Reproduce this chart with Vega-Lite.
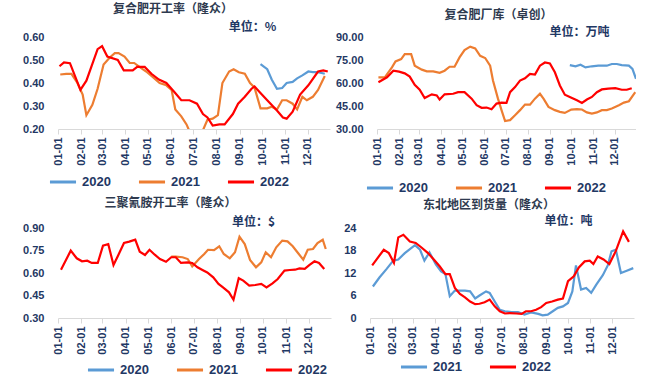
{
  "$schema": "https://vega.github.io/schema/vega-lite/v6.json",
  "padding": {"left": 16, "top": 3, "right": 0, "bottom": 0},
  "datasets": {
    "p1": [
      {"d":"2022-09-29","y":"2020","v":0.482},{"d":"2022-10-08","y":"2020","v":0.46},{"d":"2022-10-14","y":"2020","v":0.415},{"d":"2022-10-21","y":"2020","v":0.375},{"d":"2022-10-28","y":"2020","v":0.378},{"d":"2022-11-03","y":"2020","v":0.40},{"d":"2022-11-11","y":"2020","v":0.405},{"d":"2022-11-17","y":"2020","v":0.42},{"d":"2022-11-24","y":"2020","v":0.433},{"d":"2022-12-02","y":"2020","v":0.45},{"d":"2022-12-08","y":"2020","v":0.447},{"d":"2022-12-15","y":"2020","v":0.447},{"d":"2022-12-24","y":"2020","v":0.44},
      {"d":"2022-01-04","y":"2021","v":0.437},{"d":"2022-01-12","y":"2021","v":0.44},{"d":"2022-01-19","y":"2021","v":0.44},{"d":"2022-01-27","y":"2021","v":0.40},{"d":"2022-02-03","y":"2021","v":0.35},{"d":"2022-02-08","y":"2021","v":0.26},{"d":"2022-02-16","y":"2021","v":0.305},{"d":"2022-02-23","y":"2021","v":0.375},{"d":"2022-03-03","y":"2021","v":0.48},{"d":"2022-03-11","y":"2021","v":0.51},{"d":"2022-03-18","y":"2021","v":0.53},{"d":"2022-03-23","y":"2021","v":0.53},{"d":"2022-03-31","y":"2021","v":0.515},{"d":"2022-04-07","y":"2021","v":0.487},{"d":"2022-04-13","y":"2021","v":0.487},{"d":"2022-04-20","y":"2021","v":0.47},{"d":"2022-04-29","y":"2021","v":0.45},{"d":"2022-05-08","y":"2021","v":0.425},{"d":"2022-05-17","y":"2021","v":0.40},{"d":"2022-05-26","y":"2021","v":0.39},{"d":"2022-06-02","y":"2021","v":0.37},{"d":"2022-06-07","y":"2021","v":0.285},{"d":"2022-06-15","y":"2021","v":0.255},{"d":"2022-06-22","y":"2021","v":0.22},{"d":"2022-06-26","y":"2021","v":0.19},{"d":"2022-07-06","y":"2021","v":0.12},{"d":"2022-07-14","y":"2021","v":0.195},{"d":"2022-07-20","y":"2021","v":0.24},{"d":"2022-07-27","y":"2021","v":0.245},{"d":"2022-08-03","y":"2021","v":0.26},{"d":"2022-08-09","y":"2021","v":0.40},{"d":"2022-08-18","y":"2021","v":0.45},{"d":"2022-08-24","y":"2021","v":0.46},{"d":"2022-08-31","y":"2021","v":0.447},{"d":"2022-09-08","y":"2021","v":0.44},{"d":"2022-09-15","y":"2021","v":0.40},{"d":"2022-09-21","y":"2021","v":0.38},{"d":"2022-09-29","y":"2021","v":0.29},{"d":"2022-10-08","y":"2021","v":0.29},{"d":"2022-10-14","y":"2021","v":0.297},{"d":"2022-10-21","y":"2021","v":0.285},{"d":"2022-10-28","y":"2021","v":0.325},{"d":"2022-11-03","y":"2021","v":0.325},{"d":"2022-11-11","y":"2021","v":0.31},{"d":"2022-11-17","y":"2021","v":0.285},{"d":"2022-11-24","y":"2021","v":0.34},{"d":"2022-11-30","y":"2021","v":0.325},{"d":"2022-12-08","y":"2021","v":0.34},{"d":"2022-12-15","y":"2021","v":0.37},{"d":"2022-12-24","y":"2021","v":0.43},
      {"d":"2022-01-03","y":"2022","v":0.473},{"d":"2022-01-09","y":"2022","v":0.49},{"d":"2022-01-17","y":"2022","v":0.486},{"d":"2022-01-31","y":"2022","v":0.37},{"d":"2022-02-08","y":"2022","v":0.41},{"d":"2022-02-23","y":"2022","v":0.547},{"d":"2022-03-01","y":"2022","v":0.56},{"d":"2022-03-08","y":"2022","v":0.515},{"d":"2022-03-22","y":"2022","v":0.50},{"d":"2022-03-30","y":"2022","v":0.455},{"d":"2022-04-11","y":"2022","v":0.455},{"d":"2022-04-17","y":"2022","v":0.47},{"d":"2022-04-27","y":"2022","v":0.47},{"d":"2022-05-06","y":"2022","v":0.44},{"d":"2022-05-16","y":"2022","v":0.415},{"d":"2022-05-26","y":"2022","v":0.40},{"d":"2022-06-06","y":"2022","v":0.36},{"d":"2022-06-15","y":"2022","v":0.325},{"d":"2022-06-26","y":"2022","v":0.325},{"d":"2022-07-06","y":"2022","v":0.31},{"d":"2022-07-14","y":"2022","v":0.265},{"d":"2022-07-20","y":"2022","v":0.25},{"d":"2022-07-27","y":"2022","v":0.215},{"d":"2022-08-05","y":"2022","v":0.22},{"d":"2022-08-12","y":"2022","v":0.22},{"d":"2022-08-23","y":"2022","v":0.265},{"d":"2022-08-30","y":"2022","v":0.31},{"d":"2022-09-08","y":"2022","v":0.34},{"d":"2022-09-17","y":"2022","v":0.375},{"d":"2022-09-21","y":"2022","v":0.385},{"d":"2022-09-28","y":"2022","v":0.36},{"d":"2022-10-08","y":"2022","v":0.325},{"d":"2022-10-21","y":"2022","v":0.28},{"d":"2022-10-29","y":"2022","v":0.25},{"d":"2022-11-03","y":"2022","v":0.245},{"d":"2022-11-11","y":"2022","v":0.275},{"d":"2022-11-21","y":"2022","v":0.35},{"d":"2022-12-02","y":"2022","v":0.39},{"d":"2022-12-15","y":"2022","v":0.45},{"d":"2022-12-22","y":"2022","v":0.455},{"d":"2022-12-28","y":"2022","v":0.45}
    ],
    "p2": [
      {"d":"2022-09-29","y":"2020","v":71.7},{"d":"2022-10-07","y":"2020","v":70.9},{"d":"2022-10-14","y":"2020","v":71.9},{"d":"2022-10-21","y":"2020","v":70.2},{"d":"2022-10-30","y":"2020","v":70.9},{"d":"2022-11-08","y":"2020","v":71.3},{"d":"2022-11-20","y":"2020","v":71.3},{"d":"2022-11-27","y":"2020","v":72.4},{"d":"2022-12-04","y":"2020","v":72.4},{"d":"2022-12-11","y":"2020","v":71.7},{"d":"2022-12-21","y":"2020","v":71.3},{"d":"2022-12-26","y":"2020","v":69.2},{"d":"2022-12-31","y":"2020","v":62.7},
      {"d":"2022-01-03","y":"2021","v":63.7},{"d":"2022-01-12","y":"2021","v":63.7},{"d":"2022-01-22","y":"2021","v":70.2},{"d":"2022-01-27","y":"2021","v":74.1},{"d":"2022-02-04","y":"2021","v":75.6},{"d":"2022-02-09","y":"2021","v":78.8},{"d":"2022-02-18","y":"2021","v":78.8},{"d":"2022-02-23","y":"2021","v":71.3},{"d":"2022-03-05","y":"2021","v":68.7},{"d":"2022-03-12","y":"2021","v":67.6},{"d":"2022-03-21","y":"2021","v":67.6},{"d":"2022-03-30","y":"2021","v":66.6},{"d":"2022-04-06","y":"2021","v":68},{"d":"2022-04-13","y":"2021","v":70.6},{"d":"2022-04-20","y":"2021","v":70.6},{"d":"2022-04-27","y":"2021","v":76.7},{"d":"2022-05-04","y":"2021","v":81.4},{"d":"2022-05-12","y":"2021","v":83.7},{"d":"2022-05-19","y":"2021","v":82.5},{"d":"2022-05-26","y":"2021","v":77.7},{"d":"2022-06-02","y":"2021","v":76.3},{"d":"2022-06-09","y":"2021","v":71.3},{"d":"2022-06-13","y":"2021","v":61.6},{"d":"2022-06-20","y":"2021","v":49.8},{"d":"2022-06-25","y":"2021","v":42.3},{"d":"2022-06-30","y":"2021","v":35.2},{"d":"2022-07-07","y":"2021","v":35.8},{"d":"2022-07-14","y":"2021","v":39},{"d":"2022-07-21","y":"2021","v":42.3},{"d":"2022-07-28","y":"2021","v":45.9},{"d":"2022-08-04","y":"2021","v":45.9},{"d":"2022-08-11","y":"2021","v":49.8},{"d":"2022-08-18","y":"2021","v":53},{"d":"2022-08-23","y":"2021","v":49.8},{"d":"2022-08-30","y":"2021","v":44.4},{"d":"2022-09-08","y":"2021","v":42.3},{"d":"2022-09-15","y":"2021","v":41.2},{"d":"2022-09-22","y":"2021","v":40.5},{"d":"2022-10-01","y":"2021","v":42.7},{"d":"2022-10-09","y":"2021","v":42.9},{"d":"2022-10-16","y":"2021","v":42.7},{"d":"2022-10-23","y":"2021","v":40.8},{"d":"2022-10-30","y":"2021","v":40.1},{"d":"2022-11-06","y":"2021","v":40.8},{"d":"2022-11-13","y":"2021","v":42.3},{"d":"2022-11-20","y":"2021","v":42.3},{"d":"2022-11-27","y":"2021","v":43.4},{"d":"2022-12-07","y":"2021","v":45.5},{"d":"2022-12-14","y":"2021","v":47.2},{"d":"2022-12-21","y":"2021","v":48.1},{"d":"2022-12-30","y":"2021","v":54},
      {"d":"2022-01-03","y":"2022","v":60.5},{"d":"2022-01-15","y":"2022","v":63.7},{"d":"2022-01-24","y":"2022","v":68},{"d":"2022-02-01","y":"2022","v":67.4},{"d":"2022-02-09","y":"2022","v":66.3},{"d":"2022-02-16","y":"2022","v":64.2},{"d":"2022-02-23","y":"2022","v":58.8},{"d":"2022-03-02","y":"2022","v":55.6},{"d":"2022-03-09","y":"2022","v":50.2},{"d":"2022-03-19","y":"2022","v":52.6},{"d":"2022-03-26","y":"2022","v":51.9},{"d":"2022-03-30","y":"2022","v":49.2},{"d":"2022-04-06","y":"2022","v":52.6},{"d":"2022-04-18","y":"2022","v":53},{"d":"2022-04-25","y":"2022","v":54},{"d":"2022-05-04","y":"2022","v":54},{"d":"2022-05-14","y":"2022","v":49.8},{"d":"2022-05-21","y":"2022","v":45.5},{"d":"2022-05-28","y":"2022","v":43.8},{"d":"2022-06-04","y":"2022","v":44},{"d":"2022-06-11","y":"2022","v":42.9},{"d":"2022-06-18","y":"2022","v":46.6},{"d":"2022-06-25","y":"2022","v":47.2},{"d":"2022-07-02","y":"2022","v":47},{"d":"2022-07-07","y":"2022","v":54},{"d":"2022-07-14","y":"2022","v":57.3},{"d":"2022-07-21","y":"2022","v":61.6},{"d":"2022-07-28","y":"2022","v":63.1},{"d":"2022-08-04","y":"2022","v":65.9},{"d":"2022-08-11","y":"2022","v":65.5},{"d":"2022-08-18","y":"2022","v":71.3},{"d":"2022-08-25","y":"2022","v":73.4},{"d":"2022-09-01","y":"2022","v":72.8},{"d":"2022-09-08","y":"2022","v":67},{"d":"2022-09-15","y":"2022","v":58.4},{"d":"2022-09-22","y":"2022","v":52.4},{"d":"2022-10-02","y":"2022","v":50.2},{"d":"2022-10-09","y":"2022","v":48.7},{"d":"2022-10-16","y":"2022","v":47},{"d":"2022-10-23","y":"2022","v":49.2},{"d":"2022-10-30","y":"2022","v":50.9},{"d":"2022-11-06","y":"2022","v":54},{"d":"2022-11-13","y":"2022","v":55.8},{"d":"2022-11-22","y":"2022","v":56.3},{"d":"2022-12-02","y":"2022","v":56.6},{"d":"2022-12-11","y":"2022","v":55.6},{"d":"2022-12-18","y":"2022","v":55.6},{"d":"2022-12-25","y":"2022","v":56.6}
    ],
    "p3": [
      {"d":"2022-06-01","y":"2021","v":0.709},{"d":"2022-06-07","y":"2021","v":0.709},{"d":"2022-06-16","y":"2021","v":0.705},{"d":"2022-06-23","y":"2021","v":0.693},{"d":"2022-06-29","y":"2021","v":0.644},{"d":"2022-07-08","y":"2021","v":0.693},{"d":"2022-07-15","y":"2021","v":0.727},{"d":"2022-07-20","y":"2021","v":0.755},{"d":"2022-07-28","y":"2021","v":0.753},{"d":"2022-08-04","y":"2021","v":0.778},{"d":"2022-08-10","y":"2021","v":0.727},{"d":"2022-08-18","y":"2021","v":0.698},{"d":"2022-08-25","y":"2021","v":0.738},{"d":"2022-08-31","y":"2021","v":0.842},{"d":"2022-09-07","y":"2021","v":0.793},{"d":"2022-09-14","y":"2021","v":0.687},{"d":"2022-09-22","y":"2021","v":0.638},{"d":"2022-09-29","y":"2021","v":0.671},{"d":"2022-10-05","y":"2021","v":0.738},{"d":"2022-10-12","y":"2021","v":0.705},{"d":"2022-10-19","y":"2021","v":0.771},{"d":"2022-10-27","y":"2021","v":0.816},{"d":"2022-11-03","y":"2021","v":0.811},{"d":"2022-11-10","y":"2021","v":0.778},{"d":"2022-11-17","y":"2021","v":0.733},{"d":"2022-11-24","y":"2021","v":0.689},{"d":"2022-11-30","y":"2021","v":0.755},{"d":"2022-12-07","y":"2021","v":0.76},{"d":"2022-12-13","y":"2021","v":0.80},{"d":"2022-12-20","y":"2021","v":0.822},{"d":"2022-12-24","y":"2021","v":0.76},
      {"d":"2022-01-05","y":"2022","v":0.622},{"d":"2022-01-18","y":"2022","v":0.749},{"d":"2022-01-26","y":"2022","v":0.698},{"d":"2022-02-02","y":"2022","v":0.678},{"d":"2022-02-09","y":"2022","v":0.682},{"d":"2022-02-15","y":"2022","v":0.667},{"d":"2022-02-23","y":"2022","v":0.667},{"d":"2022-03-02","y":"2022","v":0.782},{"d":"2022-03-09","y":"2022","v":0.793},{"d":"2022-03-16","y":"2022","v":0.653},{"d":"2022-03-22","y":"2022","v":0.715},{"d":"2022-03-30","y":"2022","v":0.80},{"d":"2022-04-06","y":"2022","v":0.809},{"d":"2022-04-14","y":"2022","v":0.822},{"d":"2022-04-20","y":"2022","v":0.742},{"d":"2022-04-27","y":"2022","v":0.72},{"d":"2022-05-03","y":"2022","v":0.755},{"d":"2022-05-10","y":"2022","v":0.722},{"d":"2022-05-17","y":"2022","v":0.693},{"d":"2022-05-25","y":"2022","v":0.675},{"d":"2022-06-01","y":"2022","v":0.705},{"d":"2022-06-07","y":"2022","v":0.705},{"d":"2022-06-14","y":"2022","v":0.667},{"d":"2022-06-23","y":"2022","v":0.671},{"d":"2022-06-29","y":"2022","v":0.667},{"d":"2022-07-06","y":"2022","v":0.638},{"d":"2022-07-12","y":"2022","v":0.622},{"d":"2022-07-19","y":"2022","v":0.604},{"d":"2022-07-27","y":"2022","v":0.571},{"d":"2022-08-03","y":"2022","v":0.527},{"d":"2022-08-09","y":"2022","v":0.504},{"d":"2022-08-17","y":"2022","v":0.471},{"d":"2022-08-23","y":"2022","v":0.422},{"d":"2022-08-30","y":"2022","v":0.565},{"d":"2022-09-05","y":"2022","v":0.549},{"d":"2022-09-13","y":"2022","v":0.516},{"d":"2022-09-21","y":"2022","v":0.52},{"d":"2022-09-29","y":"2022","v":0.527},{"d":"2022-10-06","y":"2022","v":0.504},{"d":"2022-10-14","y":"2022","v":0.531},{"d":"2022-10-21","y":"2022","v":0.56},{"d":"2022-10-30","y":"2022","v":0.616},{"d":"2022-11-06","y":"2022","v":0.62},{"d":"2022-11-13","y":"2022","v":0.622},{"d":"2022-11-19","y":"2022","v":0.631},{"d":"2022-11-26","y":"2022","v":0.627},{"d":"2022-12-02","y":"2022","v":0.653},{"d":"2022-12-09","y":"2022","v":0.678},{"d":"2022-12-15","y":"2022","v":0.667},{"d":"2022-12-22","y":"2022","v":0.627}
    ],
    "p4": [
      {"d":"2022-01-05","y":"2021","v":8.4},{"d":"2022-01-14","y":"2021","v":10.8},{"d":"2022-01-24","y":"2021","v":13.1},{"d":"2022-02-02","y":"2021","v":15.3},{"d":"2022-02-09","y":"2021","v":15.6},{"d":"2022-02-18","y":"2021","v":17.3},{"d":"2022-03-04","y":"2021","v":19.4},{"d":"2022-03-11","y":"2021","v":18.2},{"d":"2022-03-17","y":"2021","v":15.3},{"d":"2022-03-24","y":"2021","v":17.5},{"d":"2022-04-02","y":"2021","v":14.2},{"d":"2022-04-09","y":"2021","v":12.4},{"d":"2022-04-15","y":"2021","v":11.7},{"d":"2022-04-21","y":"2021","v":5.8},{"d":"2022-04-28","y":"2021","v":7.3},{"d":"2022-05-05","y":"2021","v":7.3},{"d":"2022-05-12","y":"2021","v":7.3},{"d":"2022-05-19","y":"2021","v":7.1},{"d":"2022-05-26","y":"2021","v":5.2},{"d":"2022-06-01","y":"2021","v":6.0},{"d":"2022-06-10","y":"2021","v":7.1},{"d":"2022-06-15","y":"2021","v":6.7},{"d":"2022-06-22","y":"2021","v":4.4},{"d":"2022-06-29","y":"2021","v":2.2},{"d":"2022-07-06","y":"2021","v":1.8},{"d":"2022-07-15","y":"2021","v":1.6},{"d":"2022-07-24","y":"2021","v":1.6},{"d":"2022-08-02","y":"2021","v":0.9},{"d":"2022-08-11","y":"2021","v":1.5},{"d":"2022-08-21","y":"2021","v":1.1},{"d":"2022-08-27","y":"2021","v":0.7},{"d":"2022-09-03","y":"2021","v":0.9},{"d":"2022-09-10","y":"2021","v":1.8},{"d":"2022-09-17","y":"2021","v":2.7},{"d":"2022-09-24","y":"2021","v":3.1},{"d":"2022-10-01","y":"2021","v":4},{"d":"2022-10-07","y":"2021","v":7.1},{"d":"2022-10-12","y":"2021","v":14.0},{"d":"2022-10-19","y":"2021","v":7.6},{"d":"2022-10-26","y":"2021","v":8},{"d":"2022-11-02","y":"2021","v":6.7},{"d":"2022-11-09","y":"2021","v":8.9},{"d":"2022-11-18","y":"2021","v":11.4},{"d":"2022-11-25","y":"2021","v":14.1},{"d":"2022-11-30","y":"2021","v":17.8},{"d":"2022-12-06","y":"2021","v":18.2},{"d":"2022-12-13","y":"2021","v":12},{"d":"2022-12-21","y":"2021","v":12.6},{"d":"2022-12-30","y":"2021","v":13.3},
      {"d":"2022-01-04","y":"2022","v":14.05},{"d":"2022-01-20","y":"2022","v":18.2},{"d":"2022-01-27","y":"2022","v":17.3},{"d":"2022-02-03","y":"2022","v":14.7},{"d":"2022-02-09","y":"2022","v":21.5},{"d":"2022-02-16","y":"2022","v":22.2},{"d":"2022-02-25","y":"2022","v":20.4},{"d":"2022-03-05","y":"2022","v":20},{"d":"2022-03-13","y":"2022","v":18.8},{"d":"2022-03-22","y":"2022","v":17.3},{"d":"2022-03-30","y":"2022","v":15.6},{"d":"2022-04-07","y":"2022","v":13.8},{"d":"2022-04-15","y":"2022","v":11.7},{"d":"2022-04-21","y":"2022","v":11.7},{"d":"2022-04-28","y":"2022","v":8},{"d":"2022-05-05","y":"2022","v":6.4},{"d":"2022-05-12","y":"2022","v":5.5},{"d":"2022-05-19","y":"2022","v":4.4},{"d":"2022-05-26","y":"2022","v":3.7},{"d":"2022-06-01","y":"2022","v":3.8},{"d":"2022-06-08","y":"2022","v":4.2},{"d":"2022-06-15","y":"2022","v":4.9},{"d":"2022-06-22","y":"2022","v":3.1},{"d":"2022-06-29","y":"2022","v":1.8},{"d":"2022-07-06","y":"2022","v":1.2},{"d":"2022-07-13","y":"2022","v":1.3},{"d":"2022-07-22","y":"2022","v":1.2},{"d":"2022-07-29","y":"2022","v":1.1},{"d":"2022-08-04","y":"2022","v":1.8},{"d":"2022-08-11","y":"2022","v":1.8},{"d":"2022-08-18","y":"2022","v":2.2},{"d":"2022-08-25","y":"2022","v":2.9},{"d":"2022-09-01","y":"2022","v":4},{"d":"2022-09-09","y":"2022","v":4.4},{"d":"2022-09-17","y":"2022","v":4.9},{"d":"2022-09-24","y":"2022","v":5.2},{"d":"2022-10-01","y":"2022","v":9.8},{"d":"2022-10-09","y":"2022","v":11.1},{"d":"2022-10-16","y":"2022","v":13.5},{"d":"2022-10-24","y":"2022","v":15.1},{"d":"2022-10-31","y":"2022","v":15.3},{"d":"2022-11-05","y":"2022","v":14.4},{"d":"2022-11-11","y":"2022","v":16.4},{"d":"2022-11-19","y":"2022","v":15.6},{"d":"2022-11-27","y":"2022","v":14.4},{"d":"2022-12-06","y":"2022","v":17.9},{"d":"2022-12-16","y":"2022","v":23.1},{"d":"2022-12-24","y":"2022","v":20.3}
    ]
  },
  "vconcat": [
    {
      "hconcat": [
        {
          "width": 272, "height": 92,
          "title": {"text": "复合肥开工率（隆众）", "dx": -21, "offset": 4},
          "data": {"name": "p1"},
          "mark": {"type": "line", "clip": true, "strokeWidth": 2.2},
          "encoding": {
            "x": {"field": "d", "type": "temporal", "title": null,
              "scale": {"type": "utc", "domain": [{"year": 2022, "month": 1, "date": 1, "utc": true}, {"year": 2022, "month": 12, "date": 31, "utc": true}]},
              "axis": {"labelExpr": "utcFormat(datum.value, '%m-%d')", "values": [{"year":2022,"month":1,"date":1,"utc":true},{"year":2022,"month":2,"date":1,"utc":true},{"year":2022,"month":3,"date":1,"utc":true},{"year":2022,"month":4,"date":1,"utc":true},{"year":2022,"month":5,"date":1,"utc":true},{"year":2022,"month":6,"date":1,"utc":true},{"year":2022,"month":7,"date":1,"utc":true},{"year":2022,"month":8,"date":1,"utc":true},{"year":2022,"month":9,"date":1,"utc":true},{"year":2022,"month":10,"date":1,"utc":true},{"year":2022,"month":11,"date":1,"utc":true},{"year":2022,"month":12,"date":1,"utc":true}]}},
            "y": {"field": "v", "type": "quantitative",
              "scale": {"domain": [0.2, 0.6], "nice": false, "zero": false},
              "axis": {"values": [0.2, 0.3, 0.4, 0.5, 0.6], "format": ".2f", "title": "单位：%", "titleX": 194, "titleY": -11, "minExtent": 42, "maxExtent": 42}},
            "color": {"field": "y", "type": "nominal",
              "scale": {"domain": ["2020", "2021", "2022"], "range": ["#5B9BD5", "#ED7D31", "#FF0000"]},
              "legend": {"orient": "none", "legendX": -10, "legendY": 130}}
          }
        },
        {
          "width": 259, "height": 92,
          "title": {"text": "复合肥厂库（卓创）", "dx": -8, "offset": 3},
          "data": {"name": "p2"},
          "mark": {"type": "line", "clip": true, "strokeWidth": 2.2},
          "encoding": {
            "x": {"field": "d", "type": "temporal", "title": null,
              "scale": {"type": "utc", "domain": [{"year": 2022, "month": 1, "date": 1, "utc": true}, {"year": 2022, "month": 12, "date": 31, "utc": true}]},
              "axis": {"labelExpr": "utcFormat(datum.value, '%m-%d')", "values": [{"year":2022,"month":1,"date":1,"utc":true},{"year":2022,"month":2,"date":1,"utc":true},{"year":2022,"month":3,"date":1,"utc":true},{"year":2022,"month":4,"date":1,"utc":true},{"year":2022,"month":5,"date":1,"utc":true},{"year":2022,"month":6,"date":1,"utc":true},{"year":2022,"month":7,"date":1,"utc":true},{"year":2022,"month":8,"date":1,"utc":true},{"year":2022,"month":9,"date":1,"utc":true},{"year":2022,"month":10,"date":1,"utc":true},{"year":2022,"month":11,"date":1,"utc":true},{"year":2022,"month":12,"date":1,"utc":true}]}},
            "y": {"field": "v", "type": "quantitative",
              "scale": {"domain": [30, 90], "nice": false, "zero": false},
              "axis": {"values": [30, 45, 60, 75, 90], "format": ".2f", "title": "单位：万吨", "titleX": 202, "titleY": -6, "minExtent": 42, "maxExtent": 42}},
            "color": {"field": "y", "type": "nominal",
              "scale": {"domain": ["2020", "2021", "2022"], "range": ["#5B9BD5", "#ED7D31", "#FF0000"]},
              "legend": {"orient": "none", "legendX": -12, "legendY": 136}}
          }
        }
      ],
      "spacing": 5,
      "resolve": {"scale": {"color": "independent", "x": "independent", "y": "independent"}, "legend": {"color": "independent"}}
    },
    {
      "hconcat": [
        {
          "width": 273, "height": 90,
          "title": {"text": "三聚氰胺开工率（隆众）", "dx": -24, "offset": 5},
          "data": {"name": "p3"},
          "mark": {"type": "line", "clip": true, "strokeWidth": 2.2},
          "encoding": {
            "x": {"field": "d", "type": "temporal", "title": null,
              "scale": {"type": "utc", "domain": [{"year": 2022, "month": 1, "date": 1, "utc": true}, {"year": 2022, "month": 12, "date": 31, "utc": true}]},
              "axis": {"labelExpr": "utcFormat(datum.value, '%m-%d')", "values": [{"year":2022,"month":1,"date":1,"utc":true},{"year":2022,"month":2,"date":1,"utc":true},{"year":2022,"month":3,"date":1,"utc":true},{"year":2022,"month":4,"date":1,"utc":true},{"year":2022,"month":5,"date":1,"utc":true},{"year":2022,"month":6,"date":1,"utc":true},{"year":2022,"month":7,"date":1,"utc":true},{"year":2022,"month":8,"date":1,"utc":true},{"year":2022,"month":9,"date":1,"utc":true},{"year":2022,"month":10,"date":1,"utc":true},{"year":2022,"month":11,"date":1,"utc":true},{"year":2022,"month":12,"date":1,"utc":true}]}},
            "y": {"field": "v", "type": "quantitative",
              "scale": {"domain": [0.3, 0.9], "nice": false, "zero": false},
              "axis": {"values": [0.3, 0.45, 0.6, 0.75, 0.9], "format": ".2f", "title": "单位：$", "titleX": 195, "titleY": -7, "minExtent": 35, "maxExtent": 35}},
            "color": {"field": "y", "type": "nominal",
              "scale": {"domain": ["2020", "2021", "2022"], "range": ["#5B9BD5", "#ED7D31", "#FF0000"]},
              "legend": {"orient": "none", "legendX": 28, "legendY": 127}}
          }
        },
        {
          "width": 264, "height": 90,
          "title": {"text": "东北地区到货量（隆众）", "dx": -13, "offset": 2},
          "data": {"name": "p4"},
          "mark": {"type": "line", "clip": true, "strokeWidth": 2.2},
          "encoding": {
            "x": {"field": "d", "type": "temporal", "title": null,
              "scale": {"type": "utc", "domain": [{"year": 2022, "month": 1, "date": 1, "utc": true}, {"year": 2022, "month": 12, "date": 31, "utc": true}]},
              "axis": {"labelExpr": "utcFormat(datum.value, '%m-%d')", "values": [{"year":2022,"month":1,"date":1,"utc":true},{"year":2022,"month":2,"date":1,"utc":true},{"year":2022,"month":3,"date":1,"utc":true},{"year":2022,"month":4,"date":1,"utc":true},{"year":2022,"month":5,"date":1,"utc":true},{"year":2022,"month":6,"date":1,"utc":true},{"year":2022,"month":7,"date":1,"utc":true},{"year":2022,"month":8,"date":1,"utc":true},{"year":2022,"month":9,"date":1,"utc":true},{"year":2022,"month":10,"date":1,"utc":true},{"year":2022,"month":11,"date":1,"utc":true},{"year":2022,"month":12,"date":1,"utc":true}]}},
            "y": {"field": "v", "type": "quantitative",
              "scale": {"domain": [0, 24], "nice": false, "zero": false},
              "axis": {"values": [0, 6, 12, 18, 24], "format": "d", "title": "单位：吨", "titleX": 198, "titleY": -8, "minExtent": 37, "maxExtent": 37}},
            "color": {"field": "y", "type": "nominal",
              "scale": {"domain": ["2021", "2022"], "range": ["#5B9BD5", "#FF0000"]},
              "legend": {"orient": "none", "legendX": 29, "legendY": 124}}
          }
        }
      ],
      "spacing": 2,
      "resolve": {"scale": {"color": "independent", "x": "independent", "y": "independent"}, "legend": {"color": "independent"}}
    }
  ],
  "spacing": 2,
  "resolve": {"scale": {"color": "independent", "x": "independent", "y": "independent"}, "legend": {"color": "independent"}},
  "config": {
    "view": {"stroke": null},
    "font": "Liberation Sans",
    "title": {"font": "Noto Sans CJK SC", "fontSize": 12, "fontWeight": "bold", "color": "#2E3A4F", "anchor": "middle"},
    "axis": {"grid": false, "labelFont": "Liberation Sans", "labelFontWeight": "bold", "labelColor": "#1F3864",
      "titleFont": "Noto Sans CJK SC", "titleFontWeight": "bold", "titleColor": "#1F3864", "titleFontSize": 12},
    "axisX": {"domainColor": "#D9D9D9", "tickColor": "#D9D9D9", "tickSize": 5, "labelAngle": -90, "labelFontSize": 11, "labelPadding": 3, "labelFlush": false, "labelOverlap": false},
    "axisY": {"domain": false, "ticks": false, "labelFontSize": 11, "labelPadding": 14, "titleAngle": 0, "titleAlign": "center", "titleBaseline": "middle"},
    "legend": {"title": null, "direction": "horizontal", "symbolType": "stroke", "symbolSize": 680, "symbolStrokeWidth": 3,
      "labelFont": "Liberation Sans", "labelFontWeight": "bold", "labelFontSize": 13, "labelColor": "#1F3864", "labelOffset": 4, "columnPadding": 21, "padding": 0}
  }
}
